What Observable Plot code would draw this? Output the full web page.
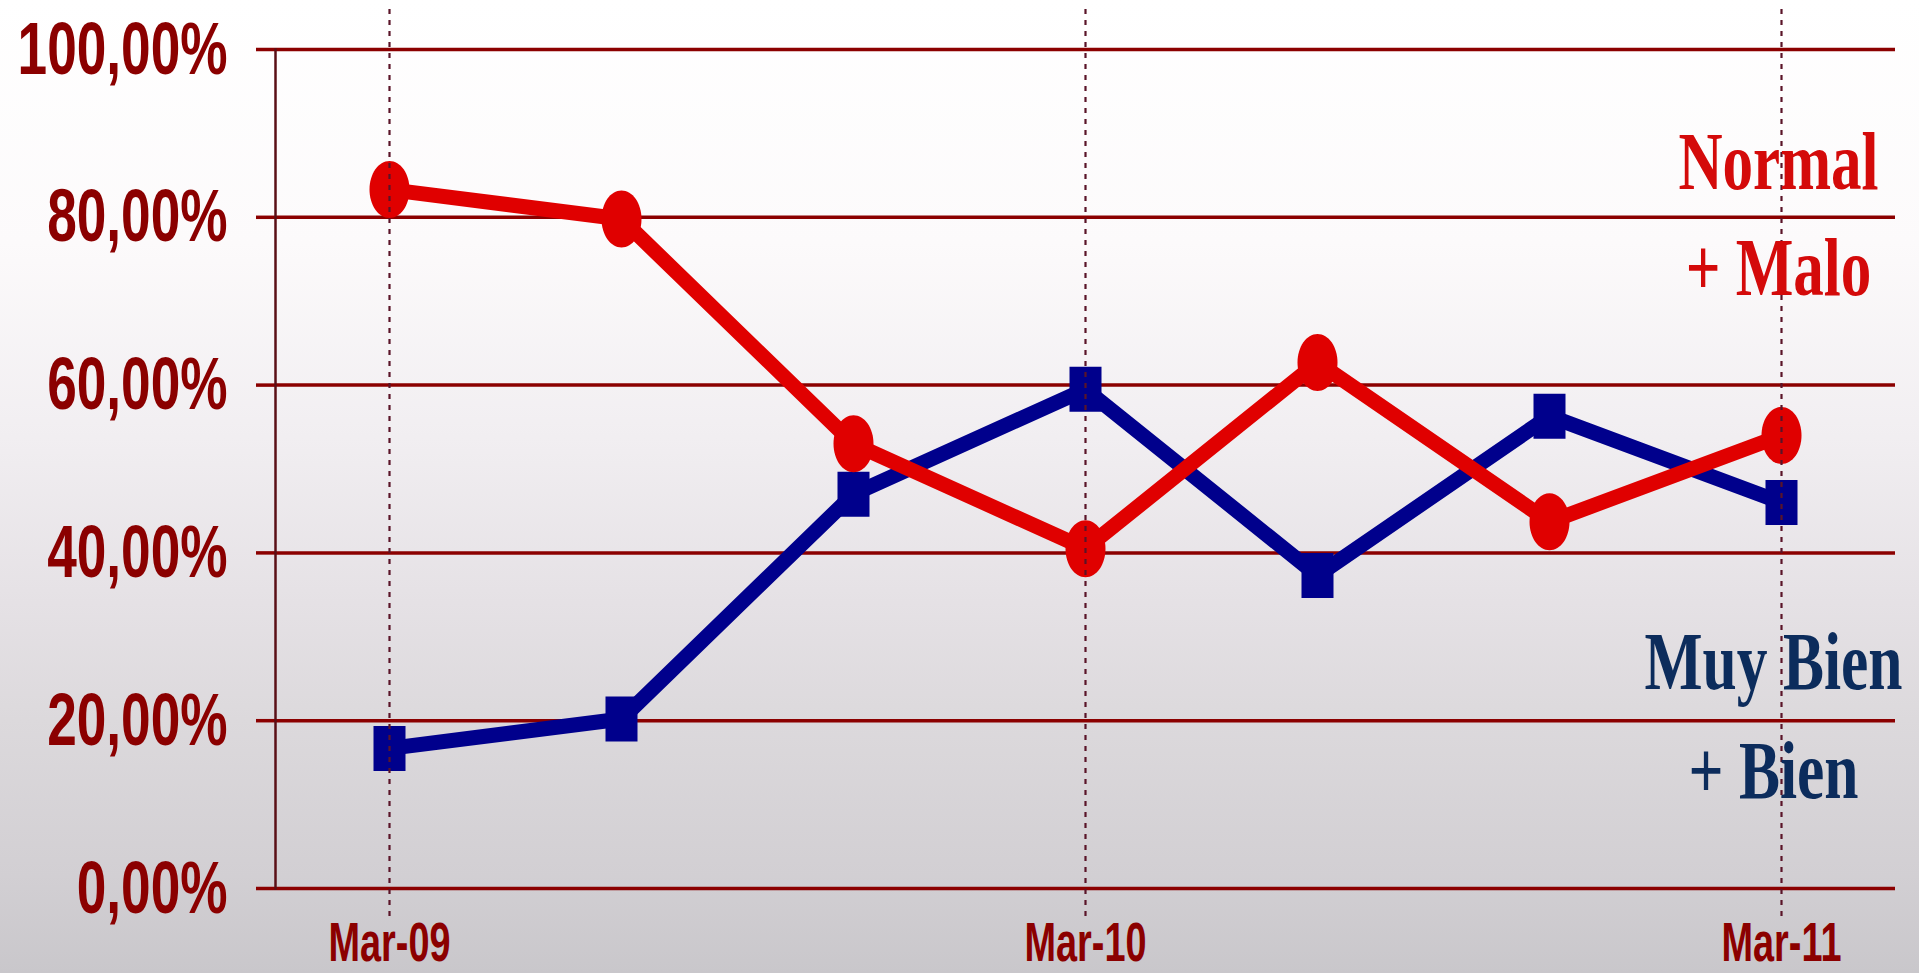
<!DOCTYPE html>
<html>
<head>
<meta charset="utf-8">
<script src="https://cdn.jsdelivr.net/npm/d3@7"></script>
<script src="https://cdn.jsdelivr.net/npm/@observablehq/plot@0.6"></script>
<style>
  html, body { margin: 0; padding: 0; overflow: hidden; background: #fff; }
  #chart svg { display: block; }
</style>
</head>
<body>
<div id="chart"></div>
<script>
// ---- data ----
const periods = ["Mar-09", "Jul-09", "Nov-09", "Mar-10", "Jul-10", "Nov-10", "Mar-11"];
const xTickLabels = ["Mar-09", "Mar-10", "Mar-11"];
const yTicks = [0, 20, 40, 60, 80, 100];
const normalMalo = [83.3, 79.8, 53.0, 40.5, 62.7, 43.7, 54.0];
const muyBienBien = [16.7, 20.2, 47.0, 59.5, 37.3, 56.3, 46.0];
const seriesNames = ["Normal\n+ Malo", "Muy Bien\n+ Bien"];

const redRows = periods.map((p, i) => ({period: p, value: normalMalo[i]}));
const blueRows = periods.map((p, i) => ({period: p, value: muyBienBien[i]}));

const RED = "#e00000";
const BLUE = "#00008c";
const GRID = "#8b0000";
const LABEL = "#8b0000";

// custom marker shapes
const ellipseSymbol = {
  draw(ctx) {
    const rx = 20, ry = 28.5, k = 0.5523;
    ctx.moveTo(rx, 0);
    ctx.bezierCurveTo(rx, ry * k, rx * k, ry, 0, ry);
    ctx.bezierCurveTo(-rx * k, ry, -rx, ry * k, -rx, 0);
    ctx.bezierCurveTo(-rx, -ry * k, -rx * k, -ry, 0, -ry);
    ctx.bezierCurveTo(rx * k, -ry, rx, -ry * k, rx, 0);
    ctx.closePath();
  }
};
const rectSymbol = {
  draw(ctx) { ctx.rect(-16, -22.5, 32, 45); }
};

const sans = "'Liberation Sans Narrow', 'Arial Narrow', 'Liberation Sans', Arial, sans-serif";
const serif = "'Liberation Serif', 'Times New Roman', serif";

const chart = Plot.plot({
  width: 1919,
  height: 973,
  marginLeft: 275,
  marginRight: 24,
  marginTop: 49,
  marginBottom: 85,
  style: {
    background: "linear-gradient(to bottom, #ffffff 0%, #fcfafb 25%, #f1eef1 45%, #e5e1e5 62%, #dcd9dc 74%, #d2cfd3 90%, #c9c7cb 100%)",
    overflow: "visible"
  },
  x: {type: "point", domain: periods, padding: 0.48, label: null},
  y: {domain: [0, 100], label: null},
  marks: [
    Plot.gridY(yTicks, {stroke: GRID, strokeOpacity: 1, strokeWidth: 3.5}),
    Plot.axisY(yTicks, {
      tickSize: 19, tickPadding: 29,
      stroke: GRID, strokeWidth: 3.5, strokeOpacity: 1,
      fill: LABEL, fontSize: 75, fontWeight: "bold", fontFamily: sans,
      tickFormat: d => d.toFixed(2).replace(".", ",") + "%",
      label: null
    }),
    Plot.axisX(xTickLabels, {
      tickSize: 0, tickPadding: 33,
      fill: LABEL, fontSize: 56, fontWeight: "bold", fontFamily: sans,
      label: null
    }),
    Plot.frame({anchor: "left", stroke: "#5a0f16", strokeWidth: 2.5}),
    // blue series
    Plot.line(blueRows, {x: "period", y: "value", stroke: BLUE, strokeWidth: 15, strokeLinejoin: "round"}),
    Plot.dot(blueRows, {x: "period", y: "value", symbol: rectSymbol, fill: BLUE, stroke: "none"}),
    // red series
    Plot.line(redRows, {x: "period", y: "value", stroke: RED, strokeWidth: 15, strokeLinejoin: "round"}),
    Plot.dot(redRows, {x: "period", y: "value", symbol: ellipseSymbol, fill: RED, stroke: "none"}),
    // dashed verticals
    Plot.gridX(xTickLabels, {
      stroke: "#5a1428", strokeOpacity: 1, strokeWidth: 2.2, strokeDasharray: "5,6",
      insetTop: -40, insetBottom: -31
    }),
    // series labels
    Plot.text([seriesNames[0]], {
      x: () => periods[periods.length - 1], y: () => 70.7, text: d => d,
      lineAnchor: "bottom", lineHeight: 1.3, dx: -3,
      fill: "#d40a0a", fontSize: 82, fontWeight: "bold", fontFamily: serif, textAnchor: "middle"
    }),
    Plot.text([seriesNames[1]], {
      x: () => periods[periods.length - 1], y: () => 10.8, text: d => d,
      lineAnchor: "bottom", lineHeight: 1.33, dx: -8,
      fill: "#0c2c5c", fontSize: 82, fontWeight: "bold", fontFamily: serif, textAnchor: "middle"
    })
  ]
});

document.getElementById("chart").appendChild(chart);

// condense text horizontally (the original image is stretched vertically)
function squeeze(el, s) {
  const t = el.getAttribute("transform");
  if (t) el.setAttribute("transform", t + ` scale(${s},1)`);
  else {
    const x = +el.getAttribute("x") || 0;
    el.setAttribute("transform", `translate(${x},0) scale(${s},1) translate(${-x},0)`);
  }
}
function squeezeGroup(texts, refWidthTarget) {
  const widths = texts.map(t => t.getBBox().width);
  const maxW = Math.max(...widths);
  const s = refWidthTarget / maxW;
  texts.forEach(t => squeeze(t, s));
}
const yLabels = Array.from(chart.querySelectorAll('g[aria-label="y-axis tick label"] text'));
const xLabels = Array.from(chart.querySelectorAll('g[aria-label="x-axis tick label"] text'));
squeezeGroup(yLabels, 210);
squeezeGroup(xLabels, 122);
const textGroups = Array.from(chart.querySelectorAll('g[aria-label="text"]'));
if (textGroups[0]) squeezeGroup(Array.from(textGroups[0].querySelectorAll("text")), 200);
if (textGroups[1]) squeezeGroup(Array.from(textGroups[1].querySelectorAll("text")), 258);
</script>
</body>
</html>
